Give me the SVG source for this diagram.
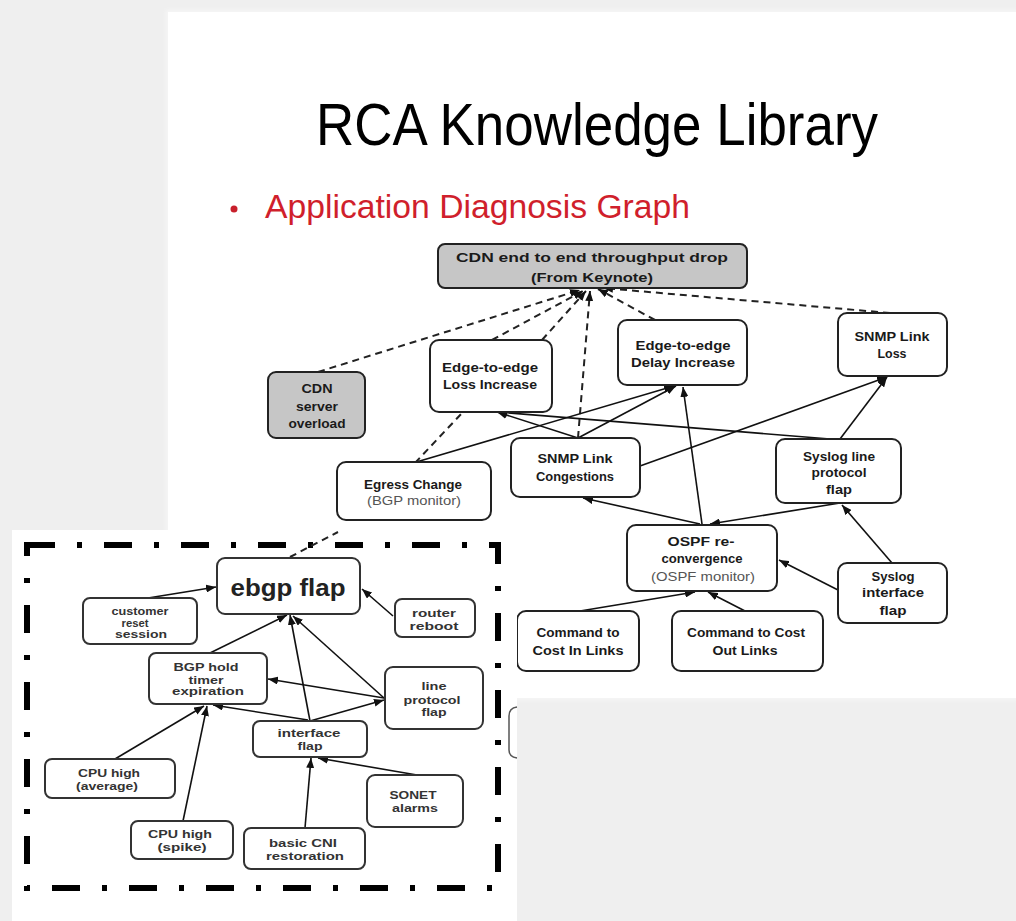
<svg xmlns="http://www.w3.org/2000/svg" width="1016" height="921" viewBox="0 0 1016 921">
  <defs>
    <marker id="arr" markerUnits="userSpaceOnUse" markerWidth="10" markerHeight="8" refX="10" refY="4" orient="auto">
      <path d="M0,0 L10,4 L0,8 z" fill="#111"/>
    </marker>
    <filter id="soft" x="-5%" y="-5%" width="110%" height="110%">
      <feGaussianBlur stdDeviation="2"/>
    </filter>
  </defs>
  <style>
    .node rect { fill: #ffffff; stroke: #222; stroke-width: 2; }
    .node.gray rect { fill: #c6c6c6; }
    .node text { font-family: "Liberation Sans", "DejaVu Sans", sans-serif; font-size: 13px; font-weight: bold; fill: #1a1a1a; text-anchor: middle; }
    .node text.mon { font-weight: normal; fill: #555; }
    .inode rect { fill: #ffffff; stroke: #333; stroke-width: 2; }
    .inode text { font-family: "Liberation Sans", "DejaVu Sans", sans-serif; font-size: 11px; font-weight: bold; fill: #333; text-anchor: middle; }
    .inode text.big { font-size: 24px; fill: #222; }
    .link { stroke: #111; stroke-width: 1.6; fill: none; marker-end: url(#arr); }
    .dash { stroke: #222; stroke-width: 2; stroke-dasharray: 7 5; fill: none; }
    .dash.arrow { marker-end: url(#arr); }
  </style>

  <!-- page background and slide panel -->
  <rect x="0" y="0" width="1016" height="921" fill="#efefef"/>
  <rect x="166" y="10" width="852" height="690" fill="#f6f6f6" filter="url(#soft)"/>
  <rect x="168" y="12" width="848" height="686" fill="#ffffff"/>

  <!-- headings -->
  <text x="316" y="145" textLength="562" lengthAdjust="spacingAndGlyphs" font-family="Liberation Sans, DejaVu Sans, sans-serif" font-size="60" fill="#000">RCA Knowledge Library</text>
  <circle cx="234" cy="209" r="3.5" fill="#c8202c"/>
  <text x="265" y="218" textLength="425" lengthAdjust="spacingAndGlyphs" font-family="Liberation Sans, DejaVu Sans, sans-serif" font-size="33" fill="#d01f2c">Application Diagnosis Graph</text>

  <!-- main graph connectors -->
  <g id="connectors">
    <path class="dash arrow" d="M318,372 L580,290"/>
    <path class="dash arrow" d="M492,340 L583,291"/>
    <path class="dash arrow" d="M542,340 L586,291"/>
    <path class="dash arrow" d="M578,438 L590,291"/>
    <path class="dash arrow" d="M655,320 L598,289"/>
    <path class="dash arrow" d="M890,313 L603,288"/>
    <path class="dash" d="M415,463 L463,412"/>

    <path class="link" d="M413,463 L674,386"/>
    <path class="link" d="M578,438 L497,412"/>
    <path class="link" d="M578,438 L676,386"/>
    <path class="link" d="M830,439 L497,412"/>
    <path class="link" d="M640,466 L887,377"/>
    <path class="link" d="M840,439 L887,377"/>
    <path class="link" d="M702,524 L683,387"/>
    <path class="link" d="M700,524 L583,498"/>
    <path class="link" d="M840,503 L710,524"/>
    <path class="link" d="M892,563 L842,505"/>
    <path class="link" d="M838,590 L779,560"/>
    <path class="link" d="M580,611 L695,592"/>
    <path class="link" d="M745,611 L708,592"/>
  </g>

  <!-- main graph nodes -->
  <g id="n-cdn-drop" class="node gray">
    <rect x="438" y="244" width="309" height="44" rx="7"/>
    <text x="592" y="262" textLength="272" lengthAdjust="spacingAndGlyphs">CDN  end to end throughput drop</text>
    <text x="592" y="282" textLength="122" lengthAdjust="spacingAndGlyphs">(From Keynote)</text>
  </g>
  <g id="n-cdn-server" class="node gray">
    <rect x="268" y="372" width="97" height="66" rx="8"/>
    <text x="317" y="393" textLength="31" lengthAdjust="spacingAndGlyphs">CDN</text>
    <text x="317" y="411" textLength="42" lengthAdjust="spacingAndGlyphs">server</text>
    <text x="317" y="428" textLength="57" lengthAdjust="spacingAndGlyphs">overload</text>
  </g>
  <g id="n-loss" class="node">
    <rect x="430" y="340" width="122" height="72" rx="9"/>
    <text x="490" y="372" textLength="96" lengthAdjust="spacingAndGlyphs">Edge-to-edge</text>
    <text x="490" y="389" textLength="94" lengthAdjust="spacingAndGlyphs">Loss Increase</text>
  </g>
  <g id="n-delay" class="node">
    <rect x="618" y="320" width="129" height="65" rx="9"/>
    <text x="683" y="350" textLength="95" lengthAdjust="spacingAndGlyphs">Edge-to-edge</text>
    <text x="683" y="367" textLength="104" lengthAdjust="spacingAndGlyphs">Delay Increase</text>
  </g>
  <g id="n-snmp-loss" class="node">
    <rect x="838" y="313" width="109" height="63" rx="9"/>
    <text x="892" y="341" textLength="75" lengthAdjust="spacingAndGlyphs">SNMP Link</text>
    <text x="892" y="358" textLength="29" lengthAdjust="spacingAndGlyphs">Loss</text>
  </g>
  <g id="n-egress" class="node">
    <rect x="337" y="462" width="154" height="58" rx="9"/>
    <text x="413" y="489" textLength="98" lengthAdjust="spacingAndGlyphs">Egress Change</text>
    <text class="mon" x="414" y="505" textLength="94" lengthAdjust="spacingAndGlyphs">(BGP monitor)</text>
  </g>
  <g id="n-snmp-cong" class="node">
    <rect x="511" y="438" width="129" height="59" rx="9"/>
    <text x="575" y="463" textLength="75" lengthAdjust="spacingAndGlyphs">SNMP Link</text>
    <text x="575" y="481" textLength="78" lengthAdjust="spacingAndGlyphs">Congestions</text>
  </g>
  <g id="n-syslog-line" class="node">
    <rect x="776" y="439" width="125" height="64" rx="9"/>
    <text x="839" y="461" textLength="72" lengthAdjust="spacingAndGlyphs">Syslog line</text>
    <text x="839" y="477" textLength="55" lengthAdjust="spacingAndGlyphs">protocol</text>
    <text x="839" y="494" textLength="26" lengthAdjust="spacingAndGlyphs">flap</text>
  </g>
  <g id="n-ospf" class="node">
    <rect x="627" y="525" width="150" height="66" rx="9"/>
    <text x="701" y="546" textLength="67" lengthAdjust="spacingAndGlyphs">OSPF re-</text>
    <text x="702" y="563" textLength="81" lengthAdjust="spacingAndGlyphs">convergence</text>
    <text class="mon" x="703" y="581" textLength="104" lengthAdjust="spacingAndGlyphs">(OSPF monitor)</text>
  </g>
  <g id="n-syslog-iface" class="node">
    <rect x="838" y="563" width="109" height="60" rx="9"/>
    <text x="893" y="581" textLength="43" lengthAdjust="spacingAndGlyphs">Syslog</text>
    <text x="893" y="597" textLength="62" lengthAdjust="spacingAndGlyphs">interface</text>
    <text x="893" y="615" textLength="27" lengthAdjust="spacingAndGlyphs">flap</text>
  </g>
  <g id="n-cost-in" class="node">
    <rect x="517" y="611" width="122" height="60" rx="9"/>
    <text x="578" y="637" textLength="83" lengthAdjust="spacingAndGlyphs">Command to</text>
    <text x="578" y="655" textLength="91" lengthAdjust="spacingAndGlyphs">Cost In Links</text>
  </g>
  <g id="n-cost-out" class="node">
    <rect x="672" y="611" width="151" height="60" rx="9"/>
    <text x="746" y="637" textLength="118" lengthAdjust="spacingAndGlyphs">Command to Cost</text>
    <text x="745" y="655" textLength="65" lengthAdjust="spacingAndGlyphs">Out Links</text>
  </g>

  <!-- ebgp inset panel -->
  <rect x="12" y="530" width="505" height="391" fill="#ffffff"/>
  <path d="M517,707 Q509,708 509,716 L509,750 Q509,757 517,758" fill="none" stroke="#555" stroke-width="1.5"/>
  <rect x="27" y="545" width="471" height="343" fill="none" stroke="#000" stroke-width="6" stroke-dasharray="28 22 5 22"/>

  <g id="inset-connectors">
    <path class="dash" d="M290,557 L338,532"/>
    <path class="link" d="M148,598 L216,587"/>
    <path class="link" d="M393,616 L362,589"/>
    <path class="link" d="M210,653 L287,615"/>
    <path class="link" d="M310,721 L290,615"/>
    <path class="link" d="M384,698 L293,616"/>
    <path class="link" d="M384,698 L268,679"/>
    <path class="link" d="M310,721 L384,700"/>
    <path class="link" d="M308,720 L213,705"/>
    <path class="link" d="M115,759 L204,706"/>
    <path class="link" d="M183,821 L207,706"/>
    <path class="link" d="M305,828 L311,758"/>
    <path class="link" d="M417,775 L318,758"/>
  </g>

  <g id="i-ebgp" class="inode">
    <rect x="217" y="558" width="143" height="56" rx="8"/>
    <text class="big" x="288" y="596" textLength="115" lengthAdjust="spacingAndGlyphs">ebgp flap</text>
  </g>
  <g id="i-customer" class="inode">
    <rect x="83" y="598" width="114" height="46" rx="7"/>
    <text x="140" y="615" textLength="57" lengthAdjust="spacingAndGlyphs">customer</text>
    <text x="135" y="627" textLength="27" lengthAdjust="spacingAndGlyphs">reset</text>
    <text x="141" y="638" textLength="52" lengthAdjust="spacingAndGlyphs">session</text>
  </g>
  <g id="i-router" class="inode">
    <rect x="395" y="599" width="80" height="38" rx="7"/>
    <text x="434" y="617" textLength="44" lengthAdjust="spacingAndGlyphs">router</text>
    <text x="434" y="630" textLength="49" lengthAdjust="spacingAndGlyphs">reboot</text>
  </g>
  <g id="i-bgp-hold" class="inode">
    <rect x="149" y="653" width="118" height="51" rx="7"/>
    <text x="206" y="671" textLength="65" lengthAdjust="spacingAndGlyphs">BGP hold</text>
    <text x="206" y="684" textLength="35" lengthAdjust="spacingAndGlyphs">timer</text>
    <text x="208" y="695" textLength="72" lengthAdjust="spacingAndGlyphs">expiration</text>
  </g>
  <g id="i-line-proto" class="inode">
    <rect x="385" y="667" width="98" height="62" rx="8"/>
    <text x="434" y="690" textLength="25" lengthAdjust="spacingAndGlyphs">line</text>
    <text x="432" y="704" textLength="57" lengthAdjust="spacingAndGlyphs">protocol</text>
    <text x="434" y="716" textLength="25" lengthAdjust="spacingAndGlyphs">flap</text>
  </g>
  <g id="i-iface" class="inode">
    <rect x="253" y="721" width="114" height="36" rx="7"/>
    <text x="309" y="737" textLength="63" lengthAdjust="spacingAndGlyphs">interface</text>
    <text x="310" y="750" textLength="25" lengthAdjust="spacingAndGlyphs">flap</text>
  </g>
  <g id="i-cpu-avg" class="inode">
    <rect x="45" y="759" width="130" height="39" rx="7"/>
    <text x="109" y="777" textLength="62" lengthAdjust="spacingAndGlyphs">CPU high</text>
    <text x="107" y="790" textLength="62" lengthAdjust="spacingAndGlyphs">(average)</text>
  </g>
  <g id="i-cpu-spike" class="inode">
    <rect x="131" y="821" width="102" height="38" rx="7"/>
    <text x="180" y="838" textLength="64" lengthAdjust="spacingAndGlyphs">CPU high</text>
    <text x="182" y="851" textLength="49" lengthAdjust="spacingAndGlyphs">(spike)</text>
  </g>
  <g id="i-cni" class="inode">
    <rect x="244" y="828" width="121" height="41" rx="7"/>
    <text x="303" y="847" textLength="68" lengthAdjust="spacingAndGlyphs">basic CNI</text>
    <text x="305" y="860" textLength="78" lengthAdjust="spacingAndGlyphs">restoration</text>
  </g>
  <g id="i-sonet" class="inode">
    <rect x="367" y="775" width="96" height="52" rx="8"/>
    <text x="413" y="799" textLength="47" lengthAdjust="spacingAndGlyphs">SONET</text>
    <text x="415" y="812" textLength="46" lengthAdjust="spacingAndGlyphs">alarms</text>
  </g>
</svg>
